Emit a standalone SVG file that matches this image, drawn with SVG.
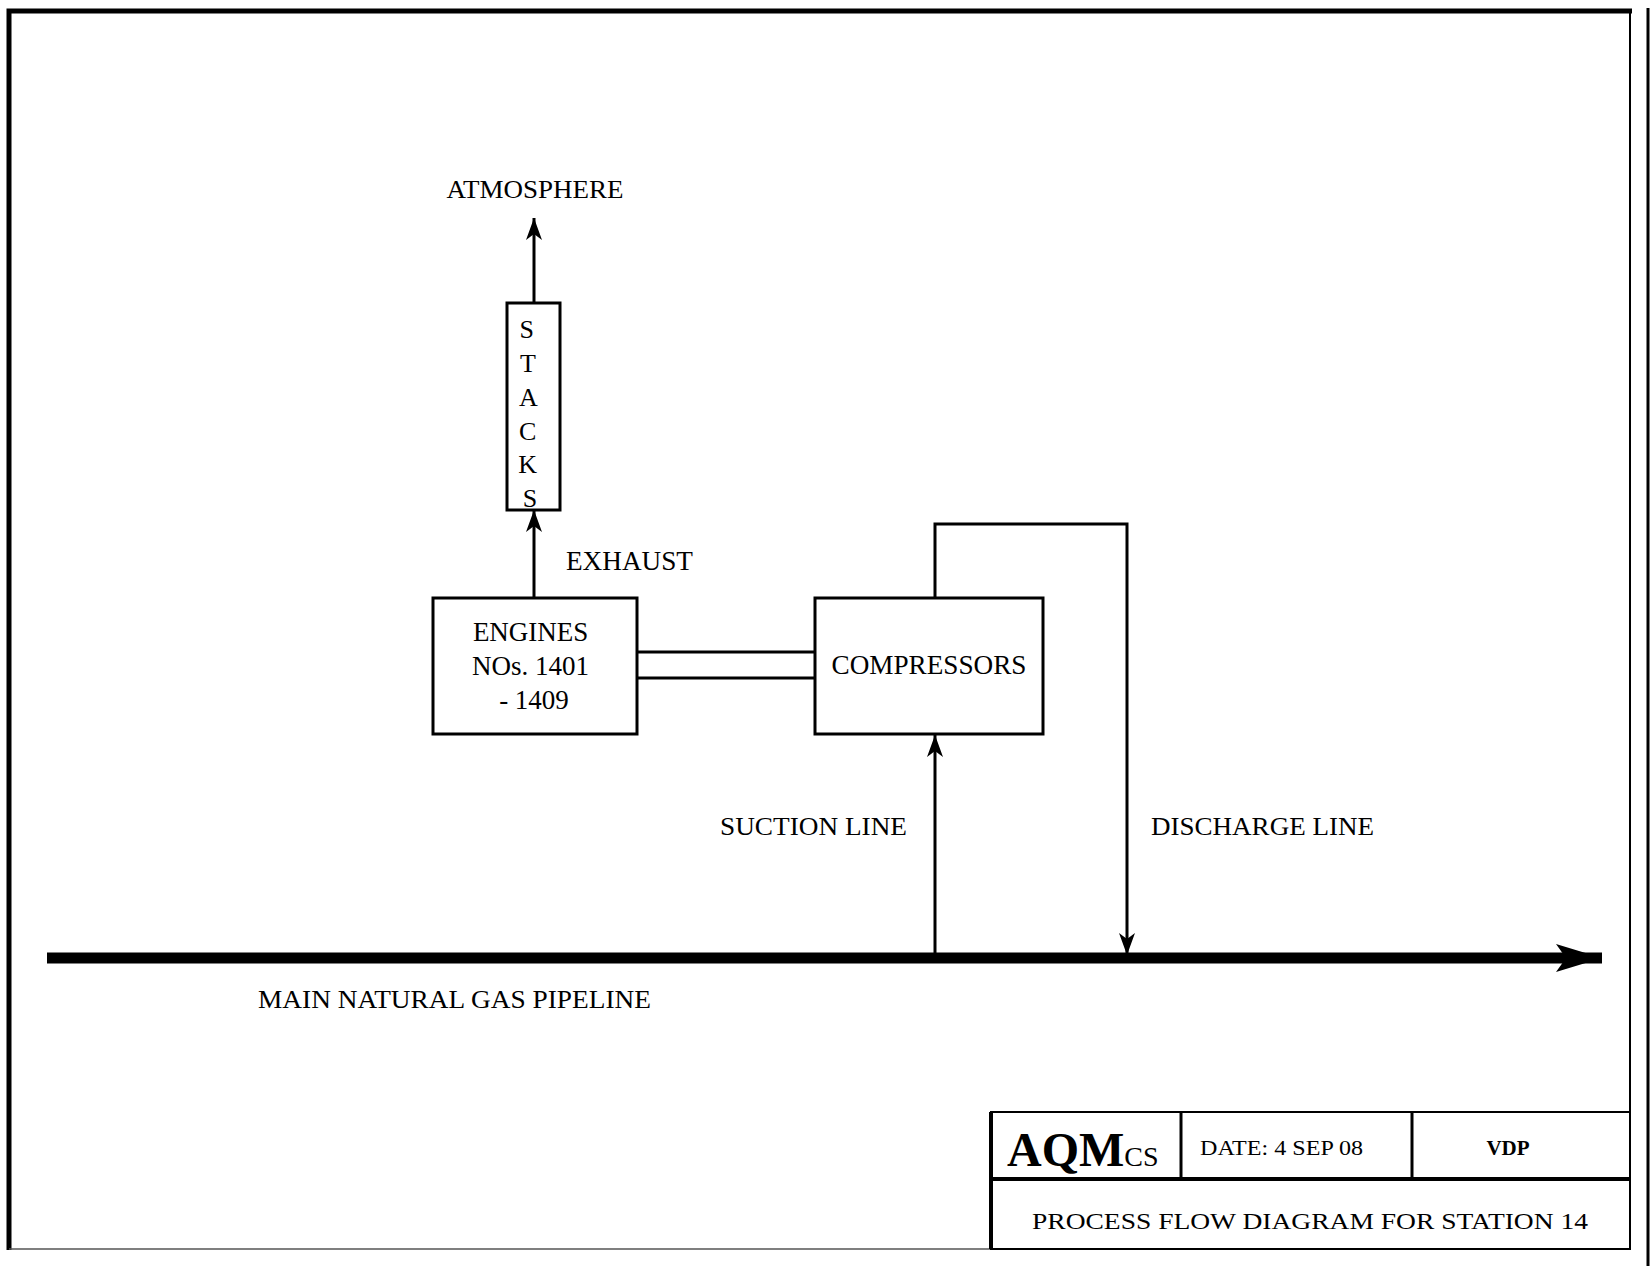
<svg xmlns="http://www.w3.org/2000/svg" width="1651" height="1266" viewBox="0 0 1651 1266">
<defs>
<style>
.t{font-family:"Liberation Serif","Times New Roman",serif;fill:#000;}
.box{fill:none;stroke:#000;stroke-width:3;}
.ln{fill:none;stroke:#000;stroke-width:3;}
</style>
<marker id="ah" viewBox="0 0 22 16" refX="22" refY="8" markerWidth="22" markerHeight="16" markerUnits="userSpaceOnUse" orient="auto">
<path d="M0,0 L22,8 L0,16 L6,8 Z" fill="#000"/>
</marker>
<marker id="big" viewBox="0 0 46 28" refX="46" refY="14" markerWidth="46" markerHeight="28" markerUnits="userSpaceOnUse" orient="auto">
<path d="M0,0 L46,14 L0,28 L10,14 Z" fill="#000"/>
</marker>
</defs>
<rect x="0" y="0" width="1651" height="1266" fill="#fff"/>
<g id="frame">
<path d="M9,1250 L9,11 L1632,11" fill="none" stroke="#000" stroke-width="5"/>
<line x1="1630" y1="11" x2="1630" y2="1250" stroke="#000" stroke-width="2"/>
<line x1="1648" y1="8" x2="1648" y2="1266" stroke="#000" stroke-width="3"/>
<line x1="9" y1="1249" x2="1630" y2="1249" stroke="#555" stroke-width="1.5"/>
</g>
<g id="connectors">
<line class="ln" x1="534" y1="303" x2="534" y2="218" marker-end="url(#ah)"/>
<line class="ln" x1="534" y1="597" x2="534" y2="510" marker-end="url(#ah)"/>
<line class="ln" x1="637" y1="652" x2="815" y2="652"/>
<line class="ln" x1="637" y1="678" x2="815" y2="678"/>
<line class="ln" x1="935" y1="953" x2="935" y2="735" marker-end="url(#ah)"/>
<path class="ln" d="M935,597 L935,524 L1127,524 L1127,955" marker-end="url(#ah)"/>
<line x1="47" y1="958" x2="1602" y2="958" stroke="#000" stroke-width="11" marker-end="url(#big)"/>
</g>
<g id="atmosphere">
<text class="t" x="535" y="198" font-size="26" text-anchor="middle" textLength="177" lengthAdjust="spacingAndGlyphs">ATMOSPHERE</text>
</g>
<g id="stacks">
<rect class="box" x="507" y="303" width="53" height="207"/>
<text class="t" font-size="26" text-anchor="middle">
<tspan x="530" y="338">S</tspan>
<tspan x="531" y="372">T</tspan>
<tspan x="531" y="406">A</tspan>
<tspan x="531" y="440">C</tspan>
<tspan x="531" y="473">K</tspan>
<tspan x="530" y="507">S</tspan>
</text>
</g>
<g id="exhaust">
<text class="t" x="566" y="570" font-size="27" textLength="127" lengthAdjust="spacingAndGlyphs">EXHAUST</text>
</g>
<g id="engines">
<rect class="box" x="433" y="598" width="204" height="136"/>
<text class="t" font-size="27" text-anchor="middle">
<tspan x="534" y="641">ENGINES</tspan>
<tspan x="534" y="675">NOs. 1401</tspan>
<tspan x="534" y="709">- 1409</tspan>
</text>
</g>
<g id="compressors">
<rect class="box" x="815" y="598" width="228" height="136"/>
<text class="t" x="929" y="674" font-size="27" text-anchor="middle" textLength="195" lengthAdjust="spacingAndGlyphs">COMPRESSORS</text>
</g>
<g id="labels">
<text class="t" x="720" y="835" font-size="25" textLength="187" lengthAdjust="spacingAndGlyphs">SUCTION LINE</text>
<text class="t" x="1151" y="835" font-size="25" textLength="223" lengthAdjust="spacingAndGlyphs">DISCHARGE LINE</text>
<text class="t" x="258" y="1008" font-size="25" textLength="393" lengthAdjust="spacingAndGlyphs">MAIN NATURAL GAS PIPELINE</text>
</g>
<g id="titleblock">
<rect x="991" y="1112" width="639" height="137" fill="none" stroke="#000" stroke-width="2"/>
<line x1="991" y1="1112" x2="991" y2="1249" stroke="#000" stroke-width="4"/>
<line x1="991" y1="1179" x2="1630" y2="1179" stroke="#000" stroke-width="4"/>
<line x1="1181" y1="1112" x2="1181" y2="1179" stroke="#000" stroke-width="3"/>
<line x1="1412" y1="1112" x2="1412" y2="1179" stroke="#000" stroke-width="3"/>
<text class="t" x="1007" y="1166" font-size="48" font-weight="bold">AQM<tspan font-size="28" font-weight="normal">CS</tspan></text>
<text class="t" x="1200" y="1155" font-size="21" textLength="163" lengthAdjust="spacingAndGlyphs">DATE: 4 SEP 08</text>
<text class="t" x="1508" y="1155" font-size="21" font-weight="bold" text-anchor="middle">VDP</text>
<text class="t" x="1032" y="1229" font-size="24" textLength="556" lengthAdjust="spacingAndGlyphs">PROCESS FLOW DIAGRAM FOR STATION 14</text>
</g>
</svg>
